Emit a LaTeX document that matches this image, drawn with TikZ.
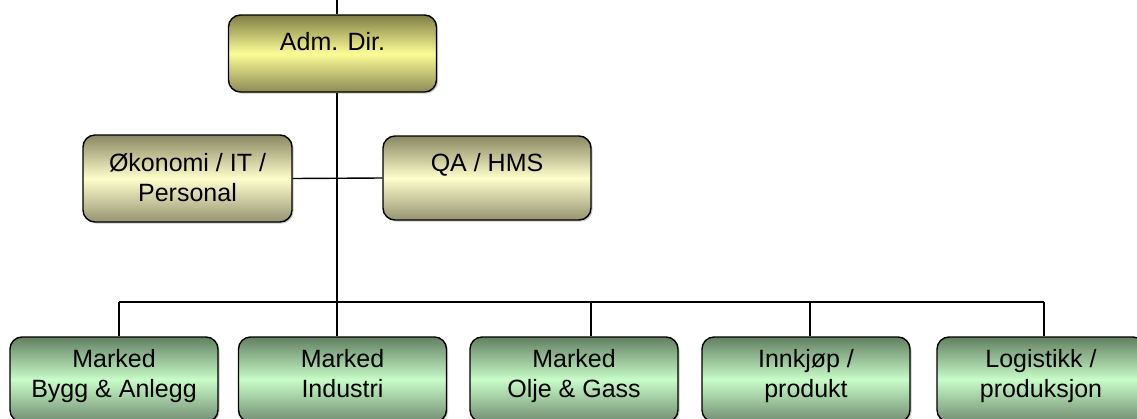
\documentclass[tikz,border=0pt]{standalone}
\usepackage{fontspec}
\setmainfont{Liberation Sans}
\usetikzlibrary{shadows}
\definecolor{admtop}{RGB}{128,126,68}
\definecolor{admmid}{RGB}{252,252,150}
\definecolor{stabtop}{RGB}{138,136,98}
\definecolor{stabmid}{RGB}{254,254,204}
\definecolor{grtop}{RGB}{98,128,98}
\definecolor{grmid}{RGB}{200,252,200}

\tikzset{
  orgbox/.style={draw=black, line width=1.4pt, rounded corners=12pt,
                 minimum width=208pt, inner sep=0pt,
                 drop shadow={shadow xshift=1.5pt, shadow yshift=-1.5pt, fill=black!60, opacity=0.35}},
  admbox/.style={orgbox, top color=admtop, bottom color=admtop!90, middle color=admmid},
  stabbox/.style={orgbox, top color=stabtop, bottom color=stabtop!90, middle color=stabmid},
  unitbox/.style={orgbox, top color=grtop, bottom color=grtop!90, middle color=grmid, minimum height=85pt},
  boxtxt/.style={anchor=north, yshift=-18pt, align=center, inner sep=0pt,
                 font=\fontsize{25}{29.5}\selectfont},
  link/.style={draw=black, line width=1.4pt}
}

\begin{document}
\begin{tikzpicture}[x=1pt, y=-1pt]
  \useasboundingbox (0,0) rectangle (1137,418);

  % points on the lines
  \coordinate (top) at (337,0);
  \coordinate (bus1) at (119,302);
  \coordinate (bus2) at (337,302);
  \coordinate (bus3) at (591,302);
  \coordinate (bus4) at (810,302);
  \coordinate (bus5) at (1044,302);

  % top level
  \node[admbox, minimum height=77pt, label={[boxtxt]north:Adm. Dir.}] (adm) at (332.5,53.5) {};

  % staff
  \node[stabbox, minimum height=87pt, minimum width=209pt,
        label={[boxtxt, yshift=-1pt]north:Økonomi / IT /\\Personal}] (oek) at (187.5,178.5) {};
  \node[stabbox, minimum height=84pt, label={[boxtxt]north:QA / HMS}] (qa) at (487,178) {};

  % line units
  \node[unitbox, label={[boxtxt, yshift=5pt]north:Marked\\Bygg \& Anlegg}] (bygg) at (114,379.5) {};
  \node[unitbox, label={[boxtxt, yshift=5pt]north:Marked\\Industri}] (ind) at (342.5,379.5) {};
  \node[unitbox, label={[boxtxt, yshift=5pt]north:Marked\\Olje \& Gass}] (olje) at (574,379.5) {};
  \node[unitbox, label={[boxtxt, yshift=5pt]north:Innkjøp /\\produkt}] (innk) at (806,379.5) {};
  \node[unitbox, label={[boxtxt, yshift=5pt]north:Logistikk /\\produksjon}] (log) at (1041,379.5) {};

  \path[link] (top) -- (top |- adm.north);
  \path[link] (adm.south -| top) -- (bus2);
  \path[link] (oek.east) -- (qa.west);
  \path[link] (bus1) -- (bus5);
  \path[link] (bus1) -- (bus1 |- bygg.north);
  \path[link] (bus2) -- (bus2 |- ind.north);
  \path[link] (bus3) -- (bus3 |- olje.north);
  \path[link] (bus4) -- (bus4 |- innk.north);
  \path[link] (bus5) -- (bus5 |- log.north);
\end{tikzpicture}
\end{document}
